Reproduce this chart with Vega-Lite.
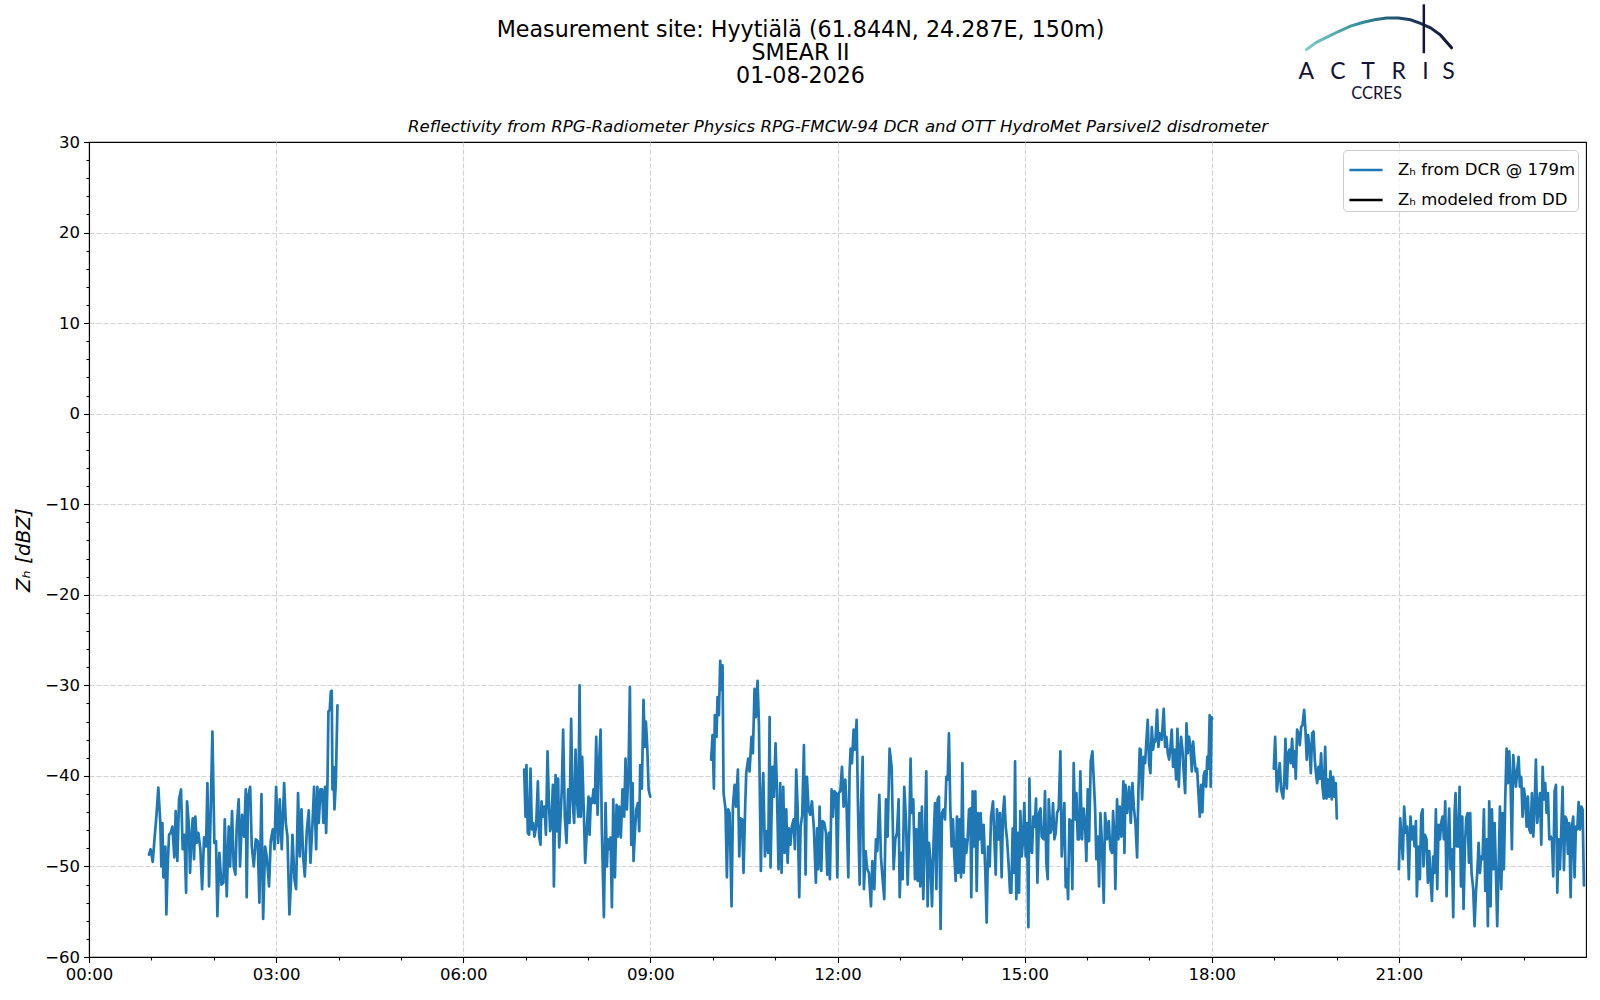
{
  "$schema": "https://vega.github.io/schema/vega-lite/v6.json",
  "width": 1497,
  "height": 815,
  "autosize": "none",
  "padding": {"left": 89, "top": 142, "right": 14, "bottom": 43},
  "background": "white",
  "datasets": {
    "zh": [
      {"t":57.7,"z":-48.7,"s":1},{"t":59.3,"z":-48.1,"s":1},{"t":61.3,"z":-49.5,"s":1},{"t":63.2,"z":-46.7,"s":1},{"t":64.8,"z":-44.5,"s":1},{"t":66.7,"z":-41.3,"s":1},{"t":68.6,"z":-45.2,"s":1},{"t":69.6,"z":-50.0,"s":1},{"t":70.6,"z":-45.2,"s":1},{"t":71.5,"z":-51.2,"s":1},
      {"t":73.5,"z":-47.8,"s":1},{"t":74.4,"z":-55.3,"s":1},{"t":75.7,"z":-50.0,"s":1},{"t":77.0,"z":-46.5,"s":1},{"t":78.6,"z":-46.3,"s":1},{"t":80.2,"z":-45.6,"s":1},{"t":82.1,"z":-49.0,"s":1},{"t":83.4,"z":-43.9,"s":1},{"t":85.0,"z":-49.4,"s":1},{"t":86.6,"z":-42.6,"s":1},
      {"t":88.5,"z":-41.5,"s":1},{"t":90.1,"z":-48.1,"s":1},{"t":91.8,"z":-46.5,"s":1},{"t":93.4,"z":-52.9,"s":1},{"t":94.3,"z":-42.8,"s":1},{"t":95.9,"z":-45.2,"s":1},{"t":97.2,"z":-50.7,"s":1},{"t":98.5,"z":-46.7,"s":1},{"t":99.8,"z":-44.7,"s":1},{"t":101.0,"z":-49.2,"s":1},
      {"t":102.3,"z":-44.5,"s":1},{"t":103.6,"z":-47.4,"s":1},{"t":105.2,"z":-46.3,"s":1},{"t":107.1,"z":-48.1,"s":1},{"t":108.8,"z":-52.5,"s":1},{"t":110.7,"z":-46.8,"s":1},{"t":112.6,"z":-47.8,"s":1},{"t":113.9,"z":-40.8,"s":1},{"t":115.5,"z":-52.2,"s":1},{"t":116.8,"z":-45.2,"s":1},
      {"t":118.7,"z":-35.1,"s":1},{"t":120.6,"z":-47.4,"s":1},{"t":122.2,"z":-47.2,"s":1},{"t":123.5,"z":-55.5,"s":1},{"t":125.4,"z":-48.5,"s":1},{"t":127.4,"z":-52.0,"s":1},{"t":129.3,"z":-51.8,"s":1},{"t":130.6,"z":-44.8,"s":1},{"t":132.5,"z":-53.3,"s":1},{"t":134.4,"z":-45.6,"s":1},
      {"t":135.7,"z":-50.0,"s":1},{"t":137.6,"z":-43.9,"s":1},{"t":139.2,"z":-50.0,"s":1},{"t":140.8,"z":-50.9,"s":1},{"t":142.1,"z":-45.6,"s":1},{"t":144.0,"z":-42.6,"s":1},{"t":145.3,"z":-50.0,"s":1},{"t":147.2,"z":-44.3,"s":1},{"t":149.2,"z":-46.7,"s":1},{"t":150.8,"z":-41.5,"s":1},
      {"t":151.7,"z":-53.4,"s":1},{"t":153.0,"z":-42.3,"s":1},{"t":155.0,"z":-41.2,"s":1},{"t":156.6,"z":-47.8,"s":1},{"t":158.5,"z":-50.0,"s":1},{"t":160.4,"z":-47.0,"s":1},{"t":162.3,"z":-47.2,"s":1},{"t":163.9,"z":-54.0,"s":1},{"t":165.9,"z":-42.0,"s":1},{"t":167.5,"z":-55.8,"s":1},
      {"t":169.4,"z":-47.8,"s":1},{"t":171.0,"z":-48.9,"s":1},{"t":173.2,"z":-52.2,"s":1},{"t":174.8,"z":-47.2,"s":1},{"t":176.8,"z":-45.9,"s":1},{"t":178.4,"z":-48.1,"s":1},{"t":180.0,"z":-41.2,"s":1},{"t":181.9,"z":-47.4,"s":1},{"t":183.5,"z":-42.6,"s":1},{"t":185.4,"z":-48.1,"s":1},
      {"t":187.7,"z":-40.8,"s":1},{"t":189.3,"z":-45.2,"s":1},{"t":190.9,"z":-46.7,"s":1},{"t":192.8,"z":-55.3,"s":1},{"t":194.4,"z":-51.4,"s":1},{"t":195.7,"z":-46.5,"s":1},{"t":197.6,"z":-51.4,"s":1},{"t":199.2,"z":-52.5,"s":1},{"t":201.1,"z":-41.9,"s":1},{"t":202.7,"z":-48.9,"s":1},
      {"t":204.4,"z":-43.7,"s":1},{"t":206.0,"z":-48.9,"s":1},{"t":207.6,"z":-51.1,"s":1},{"t":209.5,"z":-46.1,"s":1},{"t":211.4,"z":-43.8,"s":1},{"t":213.0,"z":-49.6,"s":1},{"t":215.0,"z":-45.2,"s":1},{"t":216.5,"z":-41.2,"s":1},{"t":218.5,"z":-48.1,"s":1},{"t":219.7,"z":-41.2,"s":1},
      {"t":221.0,"z":-45.2,"s":1},{"t":222.6,"z":-41.5,"s":1},{"t":224.2,"z":-41.5,"s":1},{"t":225.5,"z":-45.2,"s":1},{"t":227.1,"z":-41.2,"s":1},{"t":228.1,"z":-46.3,"s":1},{"t":229.4,"z":-40.8,"s":1},{"t":230.3,"z":-32.9,"s":1},{"t":231.6,"z":-32.7,"s":1},{"t":232.6,"z":-30.7,"s":1},
      {"t":233.5,"z":-30.6,"s":1},{"t":234.2,"z":-41.5,"s":1},{"t":235.1,"z":-39.0,"s":1},{"t":236.1,"z":-43.7,"s":1},{"t":237.4,"z":-40.8,"s":1},{"t":239.0,"z":-32.2,"s":1},

      {"t":418.6,"z":-39.3,"s":2},{"t":419.9,"z":-44.5,"s":2},{"t":420.8,"z":-38.8,"s":2},{"t":422.1,"z":-46.3,"s":2},{"t":423.4,"z":-46.5,"s":2},{"t":424.7,"z":-39.2,"s":2},{"t":426.0,"z":-45.9,"s":2},{"t":427.3,"z":-45.2,"s":2},{"t":428.5,"z":-46.7,"s":2},{"t":430.1,"z":-45.6,"s":2},
      {"t":431.8,"z":-40.6,"s":2},{"t":433.0,"z":-46.7,"s":2},{"t":434.3,"z":-47.6,"s":2},{"t":435.3,"z":-42.8,"s":2},{"t":436.6,"z":-44.5,"s":2},{"t":438.2,"z":-43.4,"s":2},{"t":439.5,"z":-46.5,"s":2},{"t":441.1,"z":-37.3,"s":2},{"t":442.3,"z":-42.6,"s":2},{"t":443.6,"z":-46.1,"s":2},
      {"t":444.9,"z":-45.2,"s":2},{"t":446.2,"z":-41.0,"s":2},{"t":447.2,"z":-52.2,"s":2},{"t":448.8,"z":-39.9,"s":2},{"t":450.0,"z":-46.1,"s":2},{"t":451.3,"z":-40.3,"s":2},{"t":452.3,"z":-47.9,"s":2},{"t":453.6,"z":-44.5,"s":2},{"t":454.8,"z":-41.5,"s":2},{"t":456.1,"z":-34.9,"s":2},
      {"t":457.7,"z":-44.5,"s":2},{"t":459.3,"z":-47.4,"s":2},{"t":460.9,"z":-41.5,"s":2},{"t":462.2,"z":-45.2,"s":2},{"t":463.8,"z":-33.7,"s":2},{"t":465.1,"z":-42.6,"s":2},{"t":466.7,"z":-45.2,"s":2},{"t":468.0,"z":-37.1,"s":2},{"t":469.3,"z":-42.6,"s":2},{"t":470.6,"z":-44.5,"s":2},
      {"t":471.9,"z":-30.0,"s":2},{"t":473.1,"z":-44.5,"s":2},{"t":474.4,"z":-37.9,"s":2},{"t":476.0,"z":-44.1,"s":2},{"t":477.3,"z":-49.6,"s":2},{"t":478.9,"z":-45.9,"s":2},{"t":480.5,"z":-42.3,"s":2},{"t":481.5,"z":-46.5,"s":2},{"t":482.8,"z":-42.5,"s":2},{"t":484.0,"z":-43.0,"s":2},
      {"t":485.3,"z":-41.5,"s":2},{"t":486.6,"z":-43.0,"s":2},{"t":487.9,"z":-35.7,"s":2},{"t":489.2,"z":-44.3,"s":2},{"t":490.5,"z":-39.0,"s":2},{"t":492.1,"z":-34.9,"s":2},{"t":493.3,"z":-45.9,"s":2},{"t":495.3,"z":-55.6,"s":2},{"t":496.9,"z":-43.0,"s":2},{"t":498.2,"z":-50.0,"s":2},
      {"t":499.1,"z":-47.0,"s":2},{"t":500.4,"z":-48.1,"s":2},{"t":501.7,"z":-46.8,"s":2},{"t":503.0,"z":-54.5,"s":2},{"t":504.3,"z":-42.6,"s":2},{"t":505.9,"z":-51.2,"s":2},{"t":507.5,"z":-43.2,"s":2},{"t":508.7,"z":-46.7,"s":2},{"t":510.0,"z":-43.4,"s":2},{"t":511.6,"z":-46.8,"s":2},
      {"t":513.2,"z":-41.5,"s":2},{"t":514.8,"z":-44.5,"s":2},{"t":516.1,"z":-38.1,"s":2},{"t":517.4,"z":-43.7,"s":2},{"t":519.0,"z":-39.3,"s":2},{"t":520.3,"z":-30.2,"s":2},{"t":521.6,"z":-47.6,"s":2},{"t":522.9,"z":-40.8,"s":2},{"t":523.8,"z":-49.4,"s":2},{"t":525.1,"z":-46.3,"s":2},
      {"t":526.4,"z":-43.7,"s":2},{"t":528.0,"z":-43.0,"s":2},{"t":529.3,"z":-46.1,"s":2},{"t":530.2,"z":-38.8,"s":2},{"t":531.8,"z":-41.4,"s":2},{"t":533.4,"z":-31.6,"s":2},{"t":534.7,"z":-36.8,"s":2},{"t":535.7,"z":-34.0,"s":2},{"t":537.0,"z":-36.8,"s":2},{"t":538.3,"z":-41.5,"s":2},
      {"t":539.9,"z":-42.3,"s":2},

      {"t":598.5,"z":-38.2,"s":3},{"t":599.8,"z":-35.5,"s":3},{"t":601.1,"z":-41.4,"s":3},{"t":602.0,"z":-33.3,"s":3},{"t":603.6,"z":-35.7,"s":3},{"t":604.6,"z":-31.3,"s":3},{"t":605.9,"z":-33.3,"s":3},{"t":607.2,"z":-27.3,"s":3},{"t":608.1,"z":-30.5,"s":3},{"t":609.4,"z":-27.8,"s":3},
      {"t":610.4,"z":-41.9,"s":3},{"t":612.3,"z":-43.7,"s":3},{"t":613.6,"z":-51.2,"s":3},{"t":614.9,"z":-43.7,"s":3},{"t":616.2,"z":-44.1,"s":3},{"t":618.1,"z":-54.4,"s":3},{"t":619.4,"z":-43.4,"s":3},{"t":621.0,"z":-41.0,"s":3},{"t":622.3,"z":-43.4,"s":3},{"t":624.2,"z":-39.3,"s":3},
      {"t":625.5,"z":-48.9,"s":3},{"t":626.7,"z":-44.7,"s":3},{"t":628.3,"z":-44.8,"s":3},{"t":629.6,"z":-50.7,"s":3},{"t":631.2,"z":-43.4,"s":3},{"t":632.2,"z":-39.7,"s":3},{"t":634.1,"z":-38.1,"s":3},{"t":635.4,"z":-39.5,"s":3},{"t":637.3,"z":-35.7,"s":3},{"t":638.6,"z":-37.5,"s":3},
      {"t":640.2,"z":-30.4,"s":3},{"t":641.5,"z":-33.5,"s":3},{"t":643.1,"z":-29.5,"s":3},{"t":644.4,"z":-34.2,"s":3},{"t":646.3,"z":-50.5,"s":3},{"t":647.3,"z":-43.4,"s":3},{"t":648.6,"z":-39.7,"s":3},{"t":650.2,"z":-48.9,"s":3},{"t":651.8,"z":-46.1,"s":3},{"t":653.4,"z":-48.5,"s":3},
      {"t":654.7,"z":-33.5,"s":3},{"t":655.6,"z":-50.1,"s":3},{"t":657.5,"z":-39.0,"s":3},{"t":658.8,"z":-42.3,"s":3},{"t":660.4,"z":-36.4,"s":3},{"t":661.7,"z":-41.5,"s":3},{"t":663.3,"z":-50.3,"s":3},{"t":664.9,"z":-40.8,"s":3},{"t":666.2,"z":-50.7,"s":3},{"t":667.8,"z":-41.2,"s":3},
      {"t":669.1,"z":-48.5,"s":3},{"t":670.7,"z":-43.7,"s":3},{"t":672.0,"z":-49.6,"s":3},{"t":673.3,"z":-45.8,"s":3},{"t":674.7,"z":-47.6,"s":3},{"t":676.1,"z":-45.6,"s":3},{"t":677.8,"z":-44.8,"s":3},{"t":679.0,"z":-48.1,"s":3},{"t":680.3,"z":-39.3,"s":3},{"t":681.6,"z":-43.4,"s":3},
      {"t":683.2,"z":-53.4,"s":3},{"t":684.5,"z":-45.6,"s":3},{"t":686.1,"z":-44.3,"s":3},{"t":687.7,"z":-36.6,"s":3},{"t":689.3,"z":-50.9,"s":3},{"t":690.6,"z":-40.1,"s":3},{"t":692.2,"z":-43.7,"s":3},{"t":693.8,"z":-44.3,"s":3},{"t":695.4,"z":-42.8,"s":3},{"t":697.3,"z":-45.8,"s":3},
      {"t":699.2,"z":-51.8,"s":3},{"t":700.5,"z":-45.8,"s":3},{"t":701.5,"z":-50.3,"s":3},{"t":702.8,"z":-43.4,"s":3},{"t":704.4,"z":-50.5,"s":3},{"t":705.7,"z":-45.0,"s":3},{"t":707.3,"z":-45.2,"s":3},{"t":708.9,"z":-46.3,"s":3},{"t":710.2,"z":-50.9,"s":3},{"t":711.8,"z":-46.3,"s":3},
      {"t":712.7,"z":-51.4,"s":3},{"t":714.3,"z":-41.5,"s":3},{"t":715.6,"z":-44.5,"s":3},{"t":716.9,"z":-41.7,"s":3},{"t":718.5,"z":-41.9,"s":3},{"t":719.8,"z":-51.2,"s":3},{"t":721.1,"z":-41.9,"s":3},{"t":722.7,"z":-41.7,"s":3},{"t":724.3,"z":-39.0,"s":3},{"t":725.9,"z":-43.4,"s":3},
      {"t":727.5,"z":-40.4,"s":3},{"t":728.8,"z":-43.6,"s":3},{"t":730.4,"z":-51.2,"s":3},{"t":731.6,"z":-39.7,"s":3},{"t":732.6,"z":-37.0,"s":3},{"t":733.9,"z":-38.6,"s":3},{"t":735.5,"z":-34.9,"s":3},{"t":736.8,"z":-37.1,"s":3},{"t":738.4,"z":-33.8,"s":3},{"t":739.7,"z":-43.4,"s":3},
      {"t":741.3,"z":-52.0,"s":3},{"t":742.6,"z":-43.4,"s":3},{"t":744.2,"z":-37.9,"s":3},{"t":745.4,"z":-52.5,"s":3},{"t":747.0,"z":-48.3,"s":3},{"t":748.6,"z":-50.3,"s":3},{"t":750.2,"z":-50.7,"s":3},{"t":752.2,"z":-54.4,"s":3},{"t":753.5,"z":-49.4,"s":3},{"t":755.4,"z":-52.5,"s":3},
      {"t":757.0,"z":-47.0,"s":3},{"t":758.3,"z":-48.3,"s":3},{"t":760.2,"z":-42.1,"s":3},{"t":761.8,"z":-49.0,"s":3},{"t":763.4,"z":-51.4,"s":3},{"t":765.0,"z":-53.6,"s":3},{"t":766.6,"z":-42.6,"s":3},{"t":768.2,"z":-46.7,"s":3},{"t":770.1,"z":-37.0,"s":3},{"t":772.1,"z":-39.0,"s":3},
      {"t":774.0,"z":-50.3,"s":3},{"t":775.6,"z":-47.0,"s":3},{"t":777.2,"z":-46.3,"s":3},{"t":778.8,"z":-42.6,"s":3},{"t":779.8,"z":-53.4,"s":3},{"t":781.4,"z":-48.5,"s":3},{"t":782.7,"z":-51.4,"s":3},{"t":784.2,"z":-41.2,"s":3},{"t":785.9,"z":-45.0,"s":3},{"t":787.5,"z":-52.0,"s":3},
      {"t":789.1,"z":-45.6,"s":3},{"t":790.3,"z":-38.1,"s":3},{"t":791.3,"z":-44.1,"s":3},{"t":792.9,"z":-42.6,"s":3},{"t":794.5,"z":-51.4,"s":3},{"t":795.8,"z":-45.9,"s":3},{"t":797.1,"z":-51.6,"s":3},{"t":798.7,"z":-44.1,"s":3},{"t":799.6,"z":-52.2,"s":3},{"t":801.2,"z":-43.4,"s":3},
      {"t":802.5,"z":-53.6,"s":3},{"t":804.1,"z":-46.7,"s":3},{"t":805.4,"z":-39.5,"s":3},{"t":806.7,"z":-54.4,"s":3},{"t":808.0,"z":-47.4,"s":3},{"t":809.3,"z":-49.2,"s":3},{"t":810.9,"z":-54.4,"s":3},{"t":812.5,"z":-47.0,"s":3},{"t":813.8,"z":-43.0,"s":3},{"t":815.1,"z":-52.5,"s":3},
      {"t":816.3,"z":-42.6,"s":3},{"t":817.6,"z":-42.3,"s":3},{"t":819.2,"z":-56.9,"s":3},{"t":820.5,"z":-44.1,"s":3},{"t":822.1,"z":-43.7,"s":3},{"t":823.4,"z":-44.8,"s":3},{"t":824.7,"z":-40.1,"s":3},{"t":826.0,"z":-40.4,"s":3},{"t":827.2,"z":-35.3,"s":3},{"t":828.5,"z":-43.4,"s":3},
      {"t":829.8,"z":-47.8,"s":3},{"t":831.1,"z":-44.8,"s":3},{"t":832.4,"z":-48.9,"s":3},{"t":833.7,"z":-51.6,"s":3},{"t":834.9,"z":-44.5,"s":3},{"t":836.2,"z":-50.7,"s":3},{"t":837.5,"z":-44.8,"s":3},{"t":838.8,"z":-51.2,"s":3},{"t":840.1,"z":-38.6,"s":3},{"t":841.4,"z":-50.7,"s":3},
      {"t":842.6,"z":-47.0,"s":3},{"t":843.9,"z":-48.5,"s":3},{"t":845.2,"z":-47.0,"s":3},{"t":846.5,"z":-43.7,"s":3},{"t":847.8,"z":-43.6,"s":3},{"t":848.7,"z":-53.4,"s":3},{"t":850.0,"z":-41.7,"s":3},{"t":851.3,"z":-47.8,"s":3},{"t":852.6,"z":-41.7,"s":3},{"t":853.9,"z":-52.7,"s":3},
      {"t":855.2,"z":-44.1,"s":3},{"t":856.4,"z":-47.0,"s":3},{"t":857.7,"z":-44.1,"s":3},{"t":859.3,"z":-48.5,"s":3},{"t":860.6,"z":-45.4,"s":3},{"t":862.2,"z":-50.7,"s":3},{"t":863.5,"z":-56.2,"s":3},{"t":864.8,"z":-47.8,"s":3},{"t":866.4,"z":-50.0,"s":3},{"t":867.7,"z":-44.5,"s":3},
      {"t":869.6,"z":-42.8,"s":3},{"t":870.9,"z":-47.0,"s":3},{"t":872.2,"z":-50.9,"s":3},{"t":873.4,"z":-43.7,"s":3},{"t":875.0,"z":-47.0,"s":3},{"t":876.3,"z":-44.1,"s":3},{"t":877.9,"z":-51.2,"s":3},{"t":879.2,"z":-44.1,"s":3},{"t":880.5,"z":-42.3,"s":3},{"t":881.8,"z":-45.6,"s":3},
      {"t":883.1,"z":-47.0,"s":3},{"t":884.7,"z":-50.0,"s":3},{"t":886.0,"z":-52.9,"s":3},{"t":887.2,"z":-52.9,"s":3},{"t":888.5,"z":-45.8,"s":3},{"t":889.8,"z":-50.7,"s":3},{"t":890.8,"z":-38.4,"s":3},{"t":892.0,"z":-53.6,"s":3},{"t":893.3,"z":-46.3,"s":3},{"t":894.6,"z":-52.9,"s":3},
      {"t":895.9,"z":-43.9,"s":3},{"t":897.2,"z":-48.9,"s":3},{"t":898.5,"z":-47.0,"s":3},{"t":899.7,"z":-43.0,"s":3},{"t":901.0,"z":-48.9,"s":3},{"t":902.3,"z":-45.2,"s":3},{"t":903.6,"z":-56.7,"s":3},{"t":904.6,"z":-40.3,"s":3},{"t":905.8,"z":-47.8,"s":3},{"t":907.1,"z":-48.5,"s":3},
      {"t":908.4,"z":-44.5,"s":3},{"t":909.7,"z":-45.6,"s":3},{"t":911.0,"z":-42.5,"s":3},{"t":912.3,"z":-51.8,"s":3},{"t":913.9,"z":-44.1,"s":3},{"t":915.3,"z":-43.6,"s":3},{"t":916.4,"z":-46.7,"s":3},{"t":918.4,"z":-47.0,"s":3},{"t":919.6,"z":-41.7,"s":3},{"t":920.9,"z":-49.6,"s":3},
      {"t":922.2,"z":-51.4,"s":3},{"t":923.2,"z":-42.6,"s":3},{"t":924.8,"z":-46.3,"s":3},{"t":926.4,"z":-45.6,"s":3},{"t":927.3,"z":-43.0,"s":3},{"t":928.6,"z":-47.0,"s":3},{"t":929.9,"z":-46.3,"s":3},{"t":931.2,"z":-44.1,"s":3},{"t":932.8,"z":-43.6,"s":3},{"t":934.4,"z":-37.3,"s":3},
      {"t":935.7,"z":-48.9,"s":3},{"t":937.0,"z":-45.9,"s":3},{"t":938.2,"z":-43.0,"s":3},{"t":939.5,"z":-52.3,"s":3},{"t":940.5,"z":-50.3,"s":3},{"t":941.8,"z":-53.6,"s":3},{"t":943.1,"z":-44.8,"s":3},{"t":944.7,"z":-45.0,"s":3},{"t":945.9,"z":-52.5,"s":3},{"t":947.2,"z":-38.6,"s":3},
      {"t":948.5,"z":-44.8,"s":3},{"t":949.8,"z":-41.9,"s":3},{"t":951.1,"z":-47.0,"s":3},{"t":952.4,"z":-47.0,"s":3},{"t":953.6,"z":-39.5,"s":3},{"t":955.2,"z":-47.0,"s":3},{"t":956.8,"z":-43.6,"s":3},{"t":958.1,"z":-45.2,"s":3},{"t":959.4,"z":-49.4,"s":3},{"t":960.7,"z":-41.5,"s":3},
      {"t":962.0,"z":-47.2,"s":3},{"t":963.6,"z":-38.4,"s":3},{"t":965.2,"z":-37.3,"s":3},{"t":966.5,"z":-40.4,"s":3},{"t":967.8,"z":-43.6,"s":3},{"t":969.0,"z":-49.2,"s":3},{"t":970.3,"z":-46.7,"s":3},{"t":971.6,"z":-52.2,"s":3},{"t":972.9,"z":-44.1,"s":3},{"t":974.2,"z":-47.0,"s":3},
      {"t":976.1,"z":-54.0,"s":3},{"t":977.4,"z":-44.1,"s":3},{"t":979.3,"z":-47.0,"s":3},{"t":980.9,"z":-45.0,"s":3},{"t":982.5,"z":-48.1,"s":3},{"t":984.1,"z":-48.5,"s":3},{"t":985.1,"z":-43.9,"s":3},{"t":986.4,"z":-47.0,"s":3},{"t":987.3,"z":-52.5,"s":3},{"t":988.9,"z":-42.6,"s":3},
      {"t":990.2,"z":-47.0,"s":3},{"t":991.5,"z":-43.4,"s":3},{"t":993.1,"z":-46.7,"s":3},{"t":995.0,"z":-40.6,"s":3},{"t":996.0,"z":-48.5,"s":3},{"t":997.0,"z":-41.0,"s":3},{"t":998.6,"z":-44.1,"s":3},{"t":1000.5,"z":-41.2,"s":3},{"t":1002.1,"z":-45.2,"s":3},{"t":1003.7,"z":-40.8,"s":3},
      {"t":1005.0,"z":-43.4,"s":3},{"t":1006.6,"z":-45.2,"s":3},{"t":1008.2,"z":-49.0,"s":3},{"t":1009.5,"z":-41.5,"s":3},{"t":1010.7,"z":-37.0,"s":3},{"t":1011.7,"z":-37.1,"s":3},{"t":1013.0,"z":-42.6,"s":3},{"t":1014.6,"z":-37.9,"s":3},{"t":1015.9,"z":-38.6,"s":3},{"t":1017.2,"z":-36.0,"s":3},
      {"t":1018.4,"z":-33.8,"s":3},{"t":1019.7,"z":-38.6,"s":3},{"t":1021.0,"z":-39.7,"s":3},{"t":1022.3,"z":-34.6,"s":3},{"t":1023.6,"z":-37.1,"s":3},{"t":1024.9,"z":-36.0,"s":3},{"t":1025.8,"z":-36.2,"s":3},{"t":1027.4,"z":-32.7,"s":3},{"t":1028.7,"z":-36.8,"s":3},{"t":1030.0,"z":-35.3,"s":3},
      {"t":1031.9,"z":-36.0,"s":3},{"t":1033.8,"z":-32.6,"s":3},{"t":1035.1,"z":-36.8,"s":3},{"t":1036.4,"z":-35.7,"s":3},{"t":1037.7,"z":-37.5,"s":3},{"t":1039.0,"z":-38.2,"s":3},{"t":1040.3,"z":-36.8,"s":3},{"t":1041.5,"z":-34.9,"s":3},{"t":1042.8,"z":-39.0,"s":3},{"t":1044.4,"z":-37.1,"s":3},
      {"t":1045.7,"z":-40.4,"s":3},{"t":1047.0,"z":-34.8,"s":3},{"t":1048.3,"z":-41.2,"s":3},{"t":1049.6,"z":-37.1,"s":3},{"t":1050.5,"z":-35.7,"s":3},{"t":1051.8,"z":-37.1,"s":3},{"t":1053.1,"z":-39.7,"s":3},{"t":1054.4,"z":-41.9,"s":3},{"t":1055.7,"z":-34.2,"s":3},{"t":1056.9,"z":-37.5,"s":3},
      {"t":1058.2,"z":-35.7,"s":3},{"t":1059.5,"z":-36.8,"s":3},{"t":1060.8,"z":-39.5,"s":3},{"t":1062.1,"z":-36.2,"s":3},{"t":1063.4,"z":-38.2,"s":3},{"t":1064.6,"z":-39.5,"s":3},{"t":1065.9,"z":-39.2,"s":3},{"t":1067.2,"z":-41.9,"s":3},{"t":1068.5,"z":-44.5,"s":3},{"t":1069.8,"z":-41.0,"s":3},
      {"t":1071.0,"z":-44.0,"s":3},{"t":1072.2,"z":-40.0,"s":3},{"t":1073.3,"z":-39.5,"s":3},{"t":1074.6,"z":-41.2,"s":3},{"t":1075.7,"z":-37.9,"s":3},{"t":1076.8,"z":-39.2,"s":3},{"t":1078.0,"z":-33.3,"s":3},{"t":1079.0,"z":-41.2,"s":3},{"t":1079.8,"z":-33.5,"s":3},{"t":1080.4,"z":-33.7,"s":3},

      {"t":1139.7,"z":-39.2,"s":4},{"t":1141.0,"z":-35.7,"s":4},{"t":1142.6,"z":-41.7,"s":4},{"t":1143.8,"z":-40.4,"s":4},{"t":1145.4,"z":-38.6,"s":4},{"t":1146.7,"z":-41.5,"s":4},{"t":1148.7,"z":-42.5,"s":4},{"t":1149.9,"z":-40.1,"s":4},{"t":1150.9,"z":-35.9,"s":4},{"t":1152.2,"z":-41.4,"s":4},
      {"t":1153.5,"z":-37.5,"s":4},{"t":1154.7,"z":-37.1,"s":4},{"t":1156.0,"z":-38.6,"s":4},{"t":1157.3,"z":-35.9,"s":4},{"t":1158.6,"z":-39.0,"s":4},{"t":1159.9,"z":-37.3,"s":4},{"t":1160.8,"z":-40.3,"s":4},{"t":1162.1,"z":-34.9,"s":4},{"t":1163.4,"z":-35.3,"s":4},{"t":1164.7,"z":-36.6,"s":4},
      {"t":1166.0,"z":-34.6,"s":4},{"t":1167.3,"z":-34.4,"s":4},{"t":1168.9,"z":-32.7,"s":4},{"t":1170.1,"z":-34.9,"s":4},{"t":1171.4,"z":-38.2,"s":4},{"t":1172.7,"z":-35.5,"s":4},{"t":1174.0,"z":-36.8,"s":4},{"t":1175.3,"z":-39.7,"s":4},{"t":1176.6,"z":-35.3,"s":4},{"t":1177.9,"z":-35.1,"s":4},
      {"t":1179.1,"z":-38.2,"s":4},{"t":1180.4,"z":-39.9,"s":4},{"t":1181.4,"z":-40.8,"s":4},{"t":1182.7,"z":-39.0,"s":4},{"t":1183.9,"z":-40.3,"s":4},{"t":1185.2,"z":-37.5,"s":4},{"t":1186.5,"z":-41.2,"s":4},{"t":1187.8,"z":-42.5,"s":4},{"t":1189.1,"z":-36.8,"s":4},{"t":1190.4,"z":-42.5,"s":4},
      {"t":1191.6,"z":-40.4,"s":4},{"t":1192.9,"z":-42.3,"s":4},{"t":1194.2,"z":-39.5,"s":4},{"t":1195.5,"z":-42.6,"s":4},{"t":1196.8,"z":-40.1,"s":4},{"t":1198.1,"z":-42.3,"s":4},{"t":1199.3,"z":-40.8,"s":4},{"t":1200.3,"z":-44.7,"s":4},

      {"t":1260.0,"z":-50.3,"s":5},{"t":1261.3,"z":-44.7,"s":5},{"t":1262.6,"z":-47.0,"s":5},{"t":1263.8,"z":-49.2,"s":5},{"t":1265.1,"z":-43.4,"s":5},{"t":1266.7,"z":-46.3,"s":5},{"t":1268.0,"z":-45.6,"s":5},{"t":1269.6,"z":-51.4,"s":5},{"t":1271.2,"z":-44.5,"s":5},{"t":1272.5,"z":-47.0,"s":5},
      {"t":1273.8,"z":-45.6,"s":5},{"t":1275.1,"z":-47.8,"s":5},{"t":1276.4,"z":-45.0,"s":5},{"t":1277.3,"z":-53.3,"s":5},{"t":1278.9,"z":-47.8,"s":5},{"t":1280.2,"z":-51.4,"s":5},{"t":1281.5,"z":-44.3,"s":5},{"t":1282.8,"z":-43.7,"s":5},{"t":1283.7,"z":-50.0,"s":5},{"t":1285.0,"z":-46.5,"s":5},
      {"t":1286.6,"z":-47.0,"s":5},{"t":1287.9,"z":-51.8,"s":5},{"t":1289.2,"z":-48.3,"s":5},{"t":1290.5,"z":-51.4,"s":5},{"t":1291.8,"z":-53.8,"s":5},{"t":1293.0,"z":-48.9,"s":5},{"t":1294.3,"z":-50.7,"s":5},{"t":1295.6,"z":-43.7,"s":5},{"t":1296.9,"z":-52.5,"s":5},{"t":1298.2,"z":-45.4,"s":5},
      {"t":1299.5,"z":-47.0,"s":5},{"t":1300.7,"z":-45.2,"s":5},{"t":1302.0,"z":-44.5,"s":5},{"t":1303.3,"z":-47.0,"s":5},{"t":1304.6,"z":-42.8,"s":5},{"t":1305.9,"z":-53.3,"s":5},{"t":1307.2,"z":-47.0,"s":5},{"t":1308.4,"z":-43.6,"s":5},{"t":1309.7,"z":-50.3,"s":5},{"t":1311.0,"z":-48.1,"s":5},
      {"t":1312.3,"z":-55.6,"s":5},{"t":1313.6,"z":-44.1,"s":5},{"t":1314.5,"z":-41.9,"s":5},{"t":1315.8,"z":-47.8,"s":5},{"t":1317.1,"z":-47.8,"s":5},{"t":1318.4,"z":-41.2,"s":5},{"t":1319.7,"z":-52.2,"s":5},{"t":1321.0,"z":-44.5,"s":5},{"t":1322.2,"z":-54.7,"s":5},{"t":1323.5,"z":-47.8,"s":5},
      {"t":1324.8,"z":-44.7,"s":5},{"t":1326.1,"z":-44.1,"s":5},{"t":1327.4,"z":-49.6,"s":5},{"t":1328.6,"z":-44.1,"s":5},{"t":1329.9,"z":-50.7,"s":5},{"t":1331.5,"z":-52.5,"s":5},{"t":1332.8,"z":-56.6,"s":5},{"t":1334.1,"z":-52.9,"s":5},{"t":1335.4,"z":-50.7,"s":5},{"t":1336.7,"z":-47.4,"s":5},
      {"t":1337.9,"z":-50.7,"s":5},{"t":1339.2,"z":-48.9,"s":5},{"t":1340.5,"z":-49.2,"s":5},{"t":1341.8,"z":-43.7,"s":5},{"t":1343.1,"z":-52.7,"s":5},{"t":1344.4,"z":-47.0,"s":5},{"t":1345.6,"z":-56.6,"s":5},{"t":1346.9,"z":-42.8,"s":5},{"t":1348.2,"z":-54.4,"s":5},{"t":1349.5,"z":-43.7,"s":5},
      {"t":1350.8,"z":-50.3,"s":5},{"t":1352.1,"z":-45.2,"s":5},{"t":1353.3,"z":-50.3,"s":5},{"t":1354.6,"z":-56.6,"s":5},{"t":1355.9,"z":-50.3,"s":5},{"t":1357.2,"z":-43.4,"s":5},{"t":1358.5,"z":-52.5,"s":5},{"t":1359.8,"z":-44.1,"s":5},{"t":1361.0,"z":-50.3,"s":5},{"t":1362.3,"z":-42.6,"s":5},
      {"t":1363.6,"z":-37.0,"s":5},{"t":1364.9,"z":-40.8,"s":5},{"t":1366.2,"z":-37.3,"s":5},{"t":1367.5,"z":-41.0,"s":5},{"t":1368.7,"z":-48.1,"s":5},{"t":1370.0,"z":-37.7,"s":5},{"t":1371.3,"z":-39.7,"s":5},{"t":1372.6,"z":-41.2,"s":5},{"t":1373.9,"z":-39.3,"s":5},{"t":1375.2,"z":-37.9,"s":5},
      {"t":1376.4,"z":-41.2,"s":5},{"t":1377.7,"z":-40.1,"s":5},{"t":1379.0,"z":-44.5,"s":5},{"t":1380.3,"z":-41.4,"s":5},{"t":1381.6,"z":-42.6,"s":5},{"t":1382.9,"z":-45.6,"s":5},{"t":1384.1,"z":-42.3,"s":5},{"t":1385.4,"z":-45.9,"s":5},{"t":1386.7,"z":-46.3,"s":5},{"t":1388.0,"z":-41.9,"s":5},
      {"t":1389.3,"z":-46.7,"s":5},{"t":1390.6,"z":-43.4,"s":5},{"t":1391.8,"z":-38.2,"s":5},{"t":1393.1,"z":-45.2,"s":5},{"t":1394.4,"z":-43.4,"s":5},{"t":1395.7,"z":-41.9,"s":5},{"t":1397.0,"z":-47.6,"s":5},{"t":1398.3,"z":-39.0,"s":5},{"t":1399.5,"z":-42.6,"s":5},{"t":1400.8,"z":-40.8,"s":5},
      {"t":1402.1,"z":-44.1,"s":5},{"t":1403.4,"z":-41.9,"s":5},{"t":1404.7,"z":-47.0,"s":5},{"t":1406.0,"z":-46.7,"s":5},{"t":1407.2,"z":-47.0,"s":5},{"t":1408.5,"z":-51.1,"s":5},{"t":1409.8,"z":-41.7,"s":5},{"t":1411.1,"z":-41.0,"s":5},{"t":1412.4,"z":-52.9,"s":5},{"t":1413.7,"z":-47.0,"s":5},
      {"t":1414.9,"z":-50.3,"s":5},{"t":1416.2,"z":-46.0,"s":5},{"t":1417.5,"z":-41.2,"s":5},{"t":1418.8,"z":-50.4,"s":5},{"t":1420.0,"z":-44.5,"s":5},{"t":1421.3,"z":-44.8,"s":5},{"t":1422.6,"z":-48.6,"s":5},{"t":1423.9,"z":-45.2,"s":5},{"t":1425.2,"z":-53.4,"s":5},{"t":1426.5,"z":-45.6,"s":5},
      {"t":1427.7,"z":-44.5,"s":5},{"t":1429.0,"z":-51.2,"s":5},{"t":1430.3,"z":-45.6,"s":5},{"t":1431.6,"z":-45.9,"s":5},{"t":1432.9,"z":-42.9,"s":5},{"t":1434.2,"z":-45.9,"s":5},{"t":1435.5,"z":-43.4,"s":5},{"t":1436.7,"z":-43.7,"s":5},{"t":1438.0,"z":-52.1,"s":5}
    ],
    "logo": [
      {"part":"arc","t":1171.1,"z":40.2},{"part":"arc","t":1180.7,"z":41.0},{"part":"arc","t":1191.3,"z":41.6},{"part":"arc","t":1201.9,"z":42.2},{"part":"arc","t":1213.4,"z":42.8},{"part":"arc","t":1225.0,"z":43.2},{"part":"arc","t":1236.5,"z":43.5},
      {"part":"arc","t":1248.1,"z":43.7},{"part":"arc","t":1259.6,"z":43.7},{"part":"arc","t":1271.2,"z":43.5},{"part":"arc","t":1280.8,"z":43.1},{"part":"arc","t":1290.4,"z":42.6},{"part":"arc","t":1300.1,"z":41.8},{"part":"arc","t":1310.7,"z":40.4},
      {"part":"bar","t":1284.0,"z":45.2},{"part":"bar","t":1284.0,"z":39.8},
      {"part":"letter","label":"A","t":1170.9,"z":37.0},{"part":"letter","label":"C","t":1201.5,"z":37.0},{"part":"letter","label":"T","t":1230.3,"z":37.0},
      {"part":"letter","label":"R","t":1259.9,"z":37.0},{"part":"letter","label":"I","t":1285.6,"z":37.0},{"part":"letter","label":"S","t":1307.8,"z":37.0},
      {"part":"sub","label":"CCRES","t":1238.5,"z":34.7}
    ]
  },
  "resolve": {"axis": {"x": "independent", "y": "independent"}},
  "layer": [
    {
      "data": {"name": "zh"},
      "mark": {"type": "line", "strokeWidth": 2.7, "strokeJoin": "round", "strokeCap": "round"},
      "encoding": {
        "x": {
          "field": "t", "type": "quantitative",
          "scale": {"domain": [0, 1440], "nice": false, "zero": false},
          "axis": {
            "orient": "bottom", "title": null, "grid": false,
            "values": [0, 180, 360, 540, 720, 900, 1080, 1260],
            "labelExpr": "(datum.value / 60 < 10 ? '0' : '') + (datum.value / 60) + ':00'"
          }
        },
        "y": {
          "field": "z", "type": "quantitative",
          "scale": {"domain": [-60, 30], "nice": false, "zero": false},
          "axis": {
            "orient": "left", "title": "Zₕ [dBZ]", "grid": false,
            "values": [-60, -50, -40, -30, -20, -10, 0, 10, 20, 30],
            "format": "d",
            "titleFontStyle": "italic", "titleFontSize": 20, "titlePadding": 11
          }
        },
        "color": {
          "datum": "Zₕ from DCR @ 179m",
          "type": "nominal",
          "scale": {"domain": ["Zₕ from DCR @ 179m", "Zₕ modeled from DD"], "range": ["#1f77b4", "black"]},
          "legend": {
            "orient": "top-right", "offset": 8, "title": null,
            "fillColor": "rgba(255,255,255,0.8)", "strokeColor": "#cccccc", "cornerRadius": 4,
            "padding": 2, "rowPadding": 3,
            "symbolType": "stroke", "symbolStrokeWidth": 2.5, "symbolSize": 1100, "symbolOffset": 3,
            "labelFontSize": 16.5, "labelOffset": 14, "labelColor": "black", "labelFont": "DejaVu Sans", "labelLimit": 0
          }
        },
        "detail": {"field": "s", "type": "nominal"}
      }
    },
    {
      "data": {"name": "logo"},
      "transform": [{"filter": "datum.part === 'arc'"}],
      "mark": {
        "type": "line", "strokeWidth": 3, "strokeCap": "round",
        "stroke": {"gradient": "linear", "x1": 0, "y1": 0, "x2": 1, "y2": 0,
          "stops": [{"offset": 0, "color": "#7fcac5"}, {"offset": 0.4, "color": "#2f8a96"}, {"offset": 0.7, "color": "#1d3f60"}, {"offset": 1, "color": "#141436"}]}
      },
      "encoding": {
        "x": {
          "field": "t", "type": "quantitative",
          "axis": {
            "orient": "top", "labels": false, "ticks": false, "domain": false, "grid": false,
            "title": "Reflectivity from RPG-Radiometer Physics RPG-FMCW-94 DCR and OTT HydroMet Parsivel2 disdrometer",
            "titleFontStyle": "italic", "titleFontSize": 16.6, "titlePadding": 8
          }
        },
        "y": {
          "field": "z", "type": "quantitative",
          "axis": {
            "orient": "left", "title": null, "labels": false, "domain": false, "grid": false,
            "values": [-58, -56, -54, -52, -48, -46, -44, -42, -38, -36, -34, -32, -28, -26, -24, -22, -18, -16, -14, -12, -8, -6, -4, -2, 2, 4, 6, 8, 12, 14, 16, 18, 22, 24, 26, 28],
            "tickSize": 3
          }
        }
      }
    },
    {
      "data": {"name": "logo"},
      "transform": [{"filter": "datum.part === 'bar'"}],
      "mark": {"type": "line", "strokeWidth": 2.5, "color": "#141436"},
      "encoding": {
        "x": {
          "field": "t", "type": "quantitative",
          "axis": {
            "orient": "bottom", "title": null, "labels": false, "ticks": false, "domain": false,
            "grid": true, "values": [180, 360, 540, 720, 900, 1080, 1260]
          }
        },
        "y": {
          "field": "z", "type": "quantitative",
          "axis": {
            "orient": "left", "title": null, "labels": false, "ticks": false, "domain": false,
            "grid": true, "values": [-50, -40, -30, -20, -10, 0, 10, 20]
          }
        }
      }
    },
    {
      "data": {"name": "logo"},
      "transform": [{"filter": "datum.part === 'letter'"}],
      "mark": {"type": "text", "font": "Lato", "fontSize": 23, "fontWeight": 400, "color": "#141436", "align": "center", "baseline": "alphabetic"},
      "encoding": {
        "x": {
          "field": "t", "type": "quantitative",
          "axis": {
            "orient": "bottom", "title": null, "labels": false, "domain": false, "grid": false,
            "values": [60, 120, 240, 300, 420, 480, 600, 660, 780, 840, 960, 1020, 1140, 1200, 1320, 1380],
            "tickSize": 3
          }
        },
        "y": {"field": "z", "type": "quantitative", "axis": null},
        "text": {"field": "label"}
      }
    },
    {
      "data": {"name": "logo"},
      "transform": [{"filter": "datum.part === 'sub'"}],
      "mark": {"type": "text", "font": "Lato", "fontSize": 16.5, "color": "#141436", "align": "center", "baseline": "alphabetic"},
      "encoding": {
        "x": {
          "field": "t", "type": "quantitative",
          "axis": {
            "orient": "top", "labels": false, "ticks": false, "domain": false, "grid": false,
            "title": ["Measurement site: Hyytiälä (61.844N, 24.287E, 150m)", "SMEAR II", "01-08-2026"],
            "titleFontSize": 22.2, "titleLineHeight": 23, "titleAlign": "center", "titleBaseline": "middle",
            "titleX": 711, "titleY": -112.5, "titleAngle": 0
          }
        },
        "y": {"field": "z", "type": "quantitative", "axis": null},
        "text": {"field": "label"}
      }
    }
  ],
  "config": {
    "font": "DejaVu Sans",
    "view": {"stroke": "black", "strokeWidth": 1.1},
    "axis": {
      "labelFont": "DejaVu Sans", "labelFontSize": 16.5, "labelColor": "black", "labelPadding": 4,
      "titleFont": "DejaVu Sans", "titleFontWeight": "normal", "titleColor": "black",
      "tickColor": "black", "tickWidth": 1.1, "tickSize": 5.5,
      "domainColor": "black", "domainWidth": 1.1,
      "gridColor": "#d3d3d3", "gridDash": [5, 2], "gridWidth": 1.1,
      "labelFlush": false, "labelOverlap": false
    }
  }
}
